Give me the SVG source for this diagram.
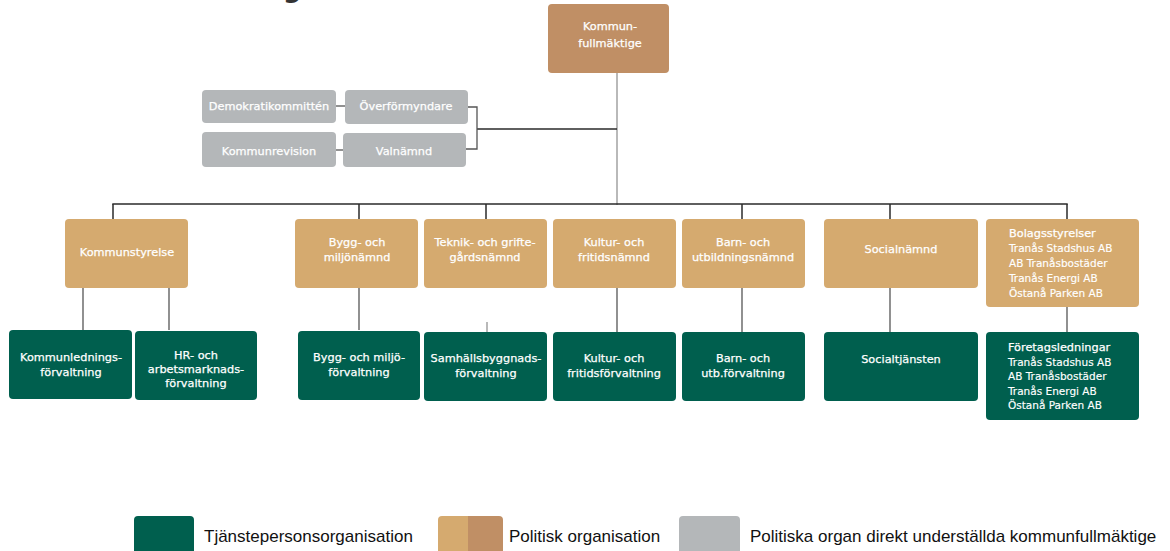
<svg xmlns="http://www.w3.org/2000/svg" width="1170" height="551" viewBox="0 0 1170 551">
<style>
.n text{font-family:"DejaVu Sans",Verdana,sans-serif;font-size:11.3px;fill:#fff;stroke:#fff;stroke-width:0.25;text-anchor:middle}
.n text.l{text-anchor:start;font-size:10.5px;stroke-width:0.15}
.n text.h{text-anchor:start;font-size:11.3px}
.top{fill:#C08F65}
.pol{fill:#D5AA6F}
.tj{fill:#005F4E}
.gr{fill:#B4B7B9}
.c line,.c polyline{stroke:#2a2a2a;stroke-width:1.5;fill:none}
.c .thin{stroke:#8a8a8a;stroke-width:1.2}
.c .g{stroke:#555;stroke-width:1.3}
.lg{font-family:"Liberation Sans",Arial,sans-serif;font-size:17px;fill:#111}
</style>
<rect width="1170" height="551" fill="#fff"/>
<text x="283" y="-3" font-family="DejaVu Sans,sans-serif" font-size="26" font-weight="bold" fill="#333">g</text>

<g class="c" id="connectors">
<line class="thin" x1="617" y1="73" x2="617" y2="205"/>
<line x1="477" y1="129" x2="617" y2="129"/>
<polyline class="g" points="468,107 477,107 477,149 466,149"/>
<line class="g" x1="336" y1="106" x2="345" y2="106"/>
<line class="g" x1="336" y1="150" x2="343" y2="150"/>
<line x1="112.3" y1="204" x2="1067.7" y2="204"/>
<line x1="113" y1="204" x2="113" y2="219"/>
<line x1="359" y1="204" x2="359" y2="219"/>
<line x1="486" y1="204" x2="486" y2="219"/>
<line x1="742" y1="204" x2="742" y2="219"/>
<line x1="890" y1="204" x2="890" y2="219"/>
<line x1="1067" y1="204" x2="1067" y2="219"/>
<line class="g" x1="83" y1="288" x2="83" y2="330"/>
<line class="g" x1="169" y1="288" x2="169" y2="330"/>
<line class="g" x1="359" y1="288" x2="359" y2="330"/>
<line class="thin" x1="487" y1="322" x2="487" y2="332"/>
<line class="g" x1="617" y1="288" x2="617" y2="332"/>
<line class="g" x1="742" y1="288" x2="742" y2="332"/>
<line class="g" x1="890" y1="288" x2="890" y2="332"/>
<line class="g" x1="1067" y1="307" x2="1067" y2="332"/>
</g>

<g class="n" id="kommunfullmaktige"><rect class="top" x="548" y="4" width="121" height="69" rx="4"/><text x="610" y="30">Kommun-</text><text x="610" y="47">fullmäktige</text></g>

<g class="n" id="demokratikommitten"><rect class="gr" x="202" y="90" width="134" height="33" rx="4"/><text x="269" y="110">Demokratikommittén</text></g>
<g class="n" id="overformyndare"><rect class="gr" x="345" y="90" width="123" height="34" rx="4"/><text x="406" y="110">Överförmyndare</text></g>
<g class="n" id="kommunrevision"><rect class="gr" x="202" y="132" width="134" height="35" rx="4"/><text x="269" y="155">Kommunrevision</text></g>
<g class="n" id="valnamnd"><rect class="gr" x="343" y="133" width="123" height="34" rx="4"/><text x="404" y="155">Valnämnd</text></g>

<g class="n" id="kommunstyrelse"><rect class="pol" x="65" y="219" width="123" height="69" rx="4"/><text x="127" y="256">Kommunstyrelse</text></g>
<g class="n" id="bygg-nämnd"><rect class="pol" x="295" y="219" width="123" height="69" rx="4"/><text x="357" y="246">Bygg- och</text><text x="357" y="261">miljönämnd</text></g>
<g class="n" id="teknik"><rect class="pol" x="424" y="219" width="123" height="69" rx="4"/><text x="485" y="246">Teknik- och grifte-</text><text x="485" y="261">gårdsnämnd</text></g>
<g class="n" id="kultur-nämnd"><rect class="pol" x="553" y="219" width="123" height="69" rx="4"/><text x="614" y="246">Kultur- och</text><text x="614" y="261">fritidsnämnd</text></g>
<g class="n" id="barn-nämnd"><rect class="pol" x="682" y="219" width="123" height="69" rx="4"/><text x="743" y="246">Barn- och</text><text x="743" y="261">utbildningsnämnd</text></g>
<g class="n" id="socialnamnd"><rect class="pol" x="824" y="219" width="154" height="69" rx="4"/><text x="901" y="253">Socialnämnd</text></g>
<g class="n" id="bolagsstyrelser"><rect class="pol" x="986" y="219" width="153" height="88" rx="4"/><text class="h" x="1009" y="237">Bolagsstyrelser</text><text class="l" x="1009" y="252">Tranås Stadshus AB</text><text class="l" x="1009" y="267">AB Tranåsbostäder</text><text class="l" x="1009" y="282">Tranås Energi AB</text><text class="l" x="1009" y="297">Östanå Parken AB</text></g>

<g class="n" id="kommunledning"><rect class="tj" x="9" y="330" width="123" height="69" rx="4"/><text x="71" y="361">Kommunlednings-</text><text x="71" y="376">förvaltning</text></g>
<g class="n" id="hr"><rect class="tj" x="135" y="331" width="122" height="69" rx="4"/><text x="196" y="359">HR- och</text><text x="196" y="373">arbetsmarknads-</text><text x="196" y="387">förvaltning</text></g>
<g class="n" id="bygg-forv"><rect class="tj" x="298" y="331" width="122" height="69" rx="4"/><text x="359" y="361">Bygg- och miljö-</text><text x="359" y="376">förvaltning</text></g>
<g class="n" id="samhallsbygg"><rect class="tj" x="424" y="332" width="123" height="69" rx="4"/><text x="486" y="362">Samhällsbyggnads-</text><text x="486" y="377">förvaltning</text></g>
<g class="n" id="kultur-forv"><rect class="tj" x="553" y="332" width="123" height="69" rx="4"/><text x="614" y="362">Kultur- och</text><text x="614" y="377">fritidsförvaltning</text></g>
<g class="n" id="barn-forv"><rect class="tj" x="682" y="332" width="123" height="69" rx="4"/><text x="743" y="362">Barn- och</text><text x="743" y="377">utb.förvaltning</text></g>
<g class="n" id="socialtjansten"><rect class="tj" x="824" y="332" width="154" height="69" rx="4"/><text x="901" y="363">Socialtjänsten</text></g>
<g class="n" id="foretagsledningar"><rect class="tj" x="986" y="332" width="153" height="88" rx="4"/><text class="h" x="1008" y="351">Företagsledningar</text><text class="l" x="1008" y="366">Tranås Stadshus AB</text><text class="l" x="1008" y="380">AB Tranåsbostäder</text><text class="l" x="1008" y="395">Tranås Energi AB</text><text class="l" x="1008" y="409">Östanå Parken AB</text></g>

<g id="legend">
<rect class="tj" x="134" y="516" width="60" height="45" rx="4"/>
<text class="lg" x="204" y="542">Tjänstepersonsorganisation</text>
<rect class="pol" x="438" y="516" width="40" height="45" rx="4"/>
<rect class="top" x="468" y="516" width="35" height="45" rx="4"/>
<rect class="top" x="468" y="516" width="10" height="45"/>
<text class="lg" x="509" y="542">Politisk organisation</text>
<rect class="gr" x="679" y="516" width="61" height="45" rx="4"/>
<text class="lg" x="750" y="542">Politiska organ direkt underställda kommunfullmäktige</text>
</g>
</svg>
